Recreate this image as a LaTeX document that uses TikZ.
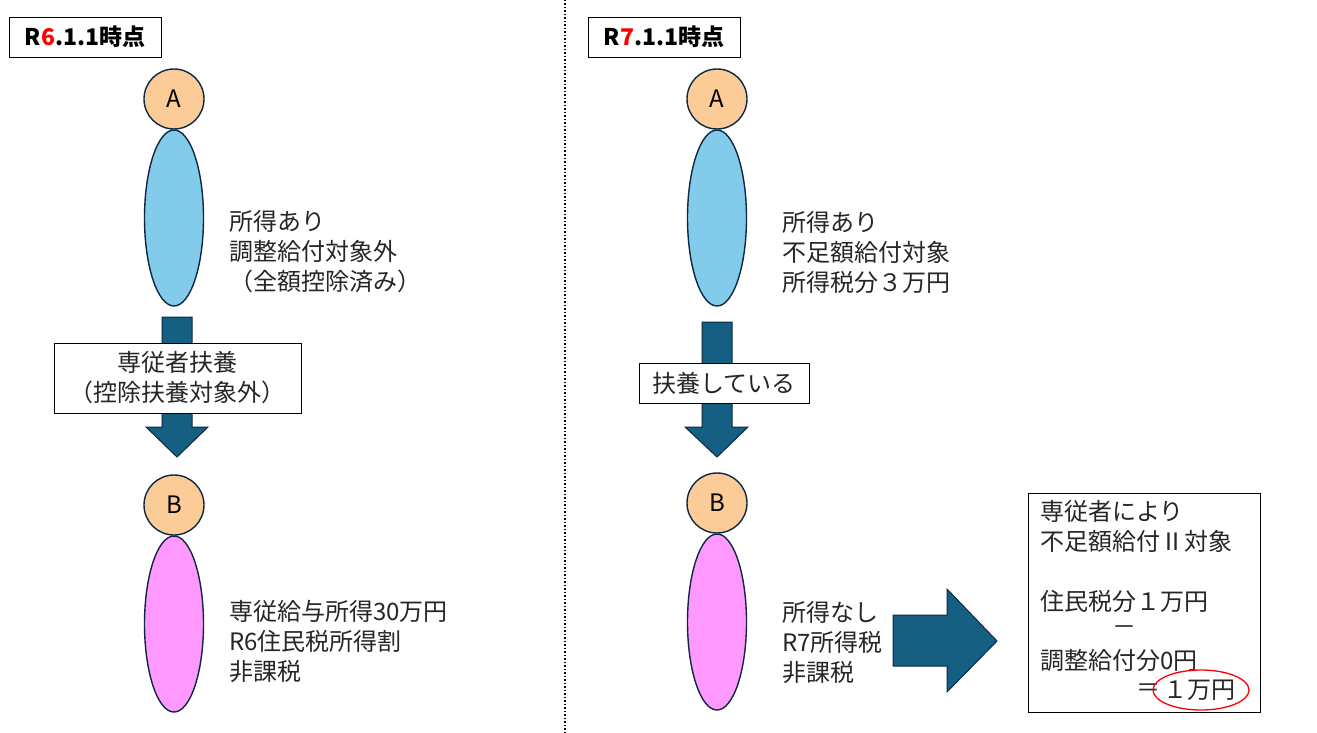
\documentclass[tikz,border=0pt]{standalone}
\usepackage{fontspec}
\setmainfont{Noto Sans CJK JP}
\usetikzlibrary{shapes.geometric}
\definecolor{peach}{HTML}{FBCB98}
\definecolor{skyb}{HTML}{83CBEB}
\definecolor{pinkb}{HTML}{FF99FF}
\definecolor{arrowc}{HTML}{156082}
\definecolor{outl}{HTML}{0E2841}
\definecolor{txt}{HTML}{262626}
\begin{document}
\begin{tikzpicture}[x=1pt,y=-1pt,
  headc/.style={circle, draw=outl, fill=peach, line width=1.4pt, minimum size=60pt, inner sep=0pt, font=\fontsize{24}{24}\selectfont},
  bodyc/.style={ellipse, draw=outl, line width=1.4pt, minimum width=59pt, minimum height=176pt, inner sep=0pt},
  lbl/.style={align=left, inner sep=0pt, anchor=west, text=txt, font=\fontsize{24}{30}\selectfont},
  tbox/.style={draw, line width=0.8pt, minimum width=152pt, minimum height=40pt, inner sep=0pt, font=\bfseries\fontsize{23}{23}\selectfont},
  cbox/.style={draw, fill=white, line width=0.8pt, inner sep=0pt, align=center, text=txt, font=\fontsize{24}{30}\selectfont},
  blockarrow/.style={fill=arrowc, draw=outl, line width=1pt}]
\useasboundingbox (0,0) rectangle (1317,733);
\fill[white] (0,0) rectangle (1317,733);

% divider
\coordinate (dtop) at (565,0);
\coordinate (dbot) at (565,733);
\draw[line width=1.5pt, dotted] (dtop) -- (dbot);

% titles
\node[tbox] (t6) at (85,37) {R{\color{red}6}.1.1時点};
\node[tbox] (t7) at (664,37) {R{\color{red}7}.1.1時点};

% left figures
\node[headc] (lA) at (174,99) {A};
\node[bodyc, fill=skyb] (lAb) at (174,218) {};
\node[lbl] (lAt) at (229,252) {所得あり\\調整給付対象外\\（全額控除済み）};

\draw[blockarrow] (162,317) -- (192,317) -- (192,427) -- (208,427) -- (177,457) -- (146,427) -- (162,427) -- cycle;
\node[cbox, minimum width=247pt, minimum height=70pt] (lrel) at (177.5,378) {専従者扶養\\（控除扶養対象外）};

\node[headc] (lB) at (174,505) {B};
\node[bodyc, fill=pinkb] (lBb) at (174,624) {};
\node[lbl] (lBt) at (229,641) {専従給与所得30万円\\R6住民税所得割\\非課税};

% right figures
\node[headc] (rA) at (717,99) {A};
\node[bodyc, fill=skyb] (rAb) at (717,218) {};
\node[lbl] (rAt) at (782,252) {所得あり\\不足額給付対象\\所得税分３万円};

\draw[blockarrow] (702,322) -- (732,322) -- (732,427) -- (748,427) -- (717,457) -- (685,427) -- (702,427) -- cycle;
\node[cbox, minimum width=170pt, minimum height=40pt] (rrel) at (724,383) {扶養している};

\node[headc] (rB) at (717,503) {B};
\node[bodyc, fill=pinkb] (rBb) at (717,622) {};
\node[lbl] (rBt) at (782,643) {所得なし\\R7所得税\\非課税};

\draw[blockarrow] (893,615) -- (947,615) -- (947,589) -- (997,641) -- (947,692) -- (947,666) -- (893,666) -- cycle;

% info box
\node[draw, line width=0.8pt, minimum width=232pt, minimum height=219pt, inner sep=0pt] (info) at (1144,602.5) {};
\node[lbl] (i1) at (1040,511) {専従者により};
\node[lbl] (i2) at (1040,541) {不足額給付Ⅱ対象};
\node[lbl] (i3) at (1040,601) {住民税分１万円};
\node[lbl, anchor=center] (i4) at (1124,631) {－};
\node[lbl, anchor=center] (i6) at (1148,690) {＝};
\node[lbl] (i5) at (1040,660) {調整給付分0円};
\node[lbl] (res) at (1163,690) {１万円};
\node[ellipse, draw=red, line width=1.3pt, minimum width=96pt, minimum height=40pt, inner sep=0pt] (ring) at (1201,690) {};
\end{tikzpicture}
\end{document}
